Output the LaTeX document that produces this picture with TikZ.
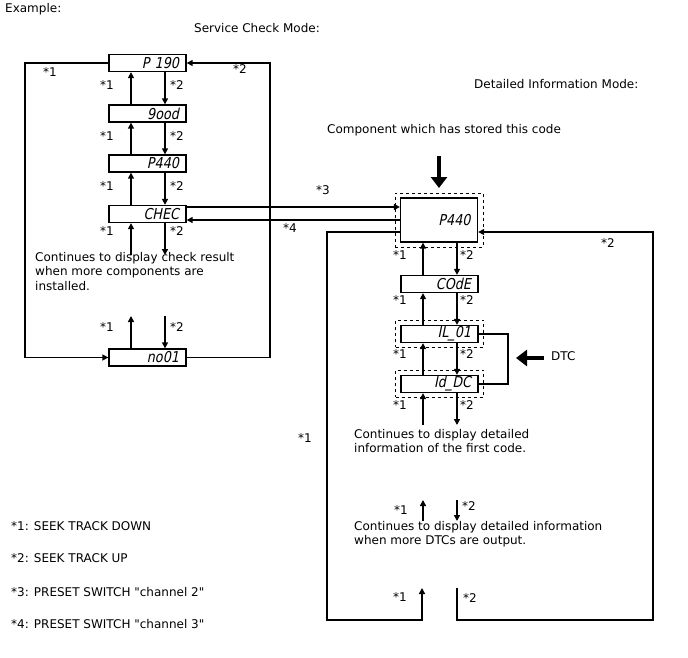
\documentclass[tikz,border=0pt]{standalone}
\usepackage{fontspec}
\setmainfont{DejaVu Sans}
\newfontfamily\segfont[FakeStretch=0.85,FakeSlant=0.2]{DejaVu Sans}
\newfontfamily\qfont[Ligatures=ResetAll]{DejaVu Sans}
\newcommand{\dq}{{\qfont\symbol{34}}}
\usetikzlibrary{arrows.meta}
\begin{document}
\begin{tikzpicture}[x=1pt,y=-1pt,
  every node/.style={font=\fontsize{12}{14}\selectfont, inner sep=0pt},
  disp/.style={draw, line width=1.3pt, minimum width=77pt, minimum height=17pt, text width=63pt, align=right, inner xsep=7pt, font=\segfont\fontsize{15}{15}\selectfont},
  bigdisp/.style={disp, minimum height=44pt},
  dashbox/.style={draw, dashed, line width=0.6pt, minimum width=88pt},
  conn/.style={line width=1.4pt},
  arr/.style={conn, -{Triangle[length=6pt,width=6pt]}},
  thickarr/.style={line width=4.5pt, -{Triangle[length=11pt,width=16pt]}},
  lbl/.style={anchor=west},
  txt/.style={anchor=north west, align=left, font=\fontsize{12}{14.5}\selectfont}
]
\useasboundingbox (0,0) rectangle (688,658);

% headings
\node[lbl] (ex) at (5,9) {Example:};
\node[lbl] (scm) at (194,28) {Service Check Mode:};
\node[lbl] (dim) at (474,84) {Detailed Information Mode:};
\node[lbl] (comp) at (327,130) {Component which has stored this code};

% left column
\node[disp] (p190) at (147.5,63) {P 190};
\node[disp] (good) at (147.5,113.5) {9ood};
\node[disp] (p440) at (147.5,163.5) {P440};
\node[disp] (chec) at (147.5,214) {CHEC};
\node[disp] (no01) at (147.5,357.5) {no01};

\coordinate (ux) at (131,0);
\coordinate (dx) at (165,0);
\draw[arr] (good.north-|ux) -- (p190.south-|ux);
\draw[arr] (p190.south-|dx) -- (good.north-|dx);
\draw[arr] (p440.north-|ux) -- (good.south-|ux);
\draw[arr] (good.south-|dx) -- (p440.north-|dx);
\draw[arr] (chec.north-|ux) -- (p440.south-|ux);
\draw[arr] (p440.south-|dx) -- (chec.north-|dx);

\coordinate (cu) at (131,255);
\coordinate (cd) at (165,255);
\draw[arr] (cu) -- (chec.south-|ux);
\draw[arr] (chec.south-|dx) -- (cd);

\coordinate (nu) at (131,316);
\coordinate (nd) at (165,316);
\draw[arr] (no01.north-|ux) -- (nu);
\draw[arr] (nd) -- (no01.north-|dx);

\coordinate (ll) at (25,357.5);
\coordinate (rl) at (270,63);
\draw[arr] (p190.west) -| (ll) -- (no01.west);
\draw[arr] (no01.east) -| (rl) -- (p190.east);

\node[lbl] at (43,72) {*1};
\node[lbl] at (233,69) {*2};
\foreach \y in {85,136,186,231,327} {
  \node[lbl] at (100,\y) {*1};
  \node[lbl] at (170,\y) {*2};
}

\node[txt] (t1) at (35,252) {Continues to display check result\\when more components are\\installed.};

% right column
\node[bigdisp] (big) at (439,220) {P440};
\node[dashbox, minimum height=54pt] (bigd) at (439,220) {};
\node[disp] (code) at (439.5,284) {COdE};
\node[disp] (il) at (439.5,334) {IL\_01};
\node[dashbox, minimum height=27pt] (ild) at (439.5,333.5) {};
\node[disp] (id) at (439.5,384) {Id\_DC};
\node[dashbox, minimum height=27pt] (idd) at (439.5,383.5) {};

\coordinate (rux) at (423,0);
\coordinate (rdx) at (457,0);
\draw[arr] (code.north-|rux) -- (big.south-|rux);
\draw[arr] (big.south-|rdx) -- (code.north-|rdx);
\draw[arr] (il.north-|rux) -- (code.south-|rux);
\draw[arr] (code.south-|rdx) -- (il.north-|rdx);
\draw[arr] (id.north-|rux) -- (il.south-|rux);
\draw[arr] (il.south-|rdx) -- (id.north-|rdx);
\coordinate (iu) at (423,425);
\coordinate (idn) at (457,425);
\draw[arr] (iu) -- (id.south-|rux);
\draw[arr] (id.south-|rdx) -- (idn);

\coordinate (br1) at (508,334);
\draw[conn] (il.east) -- (br1) |- (id.east);

\coordinate (dtcs) at (544,358);
\coordinate (dtce) at (516,358);
\draw[thickarr] (dtcs) -- (dtce);
\node[lbl] (dtc) at (551,356) {DTC};

\coordinate (tas) at (439,156);
\coordinate (tae) at (439,188);
\draw[thickarr] (tas) -- (tae);

% CHEC <-> big
\draw[arr] ([yshift=7pt]chec.east) -- ([yshift=13pt]big.west);
\draw[arr] ([yshift=0pt]big.west) -- ([yshift=-6pt]chec.east);
\node[lbl] at (316,190) {*3};
\node[lbl] at (283,228) {*4};

% big loop
\coordinate (bl) at (327,620);
\coordinate (brr) at (653,620);
\coordinate (b1) at (422,588);
\coordinate (b2) at (457,588);
\draw[arr] ([yshift=-12pt]big.west) -| (bl) -| (b1);
\draw[arr] (b2) |- (brr) |- ([yshift=-12pt]big.east);

\node[lbl] at (601,243) {*2};
\node[lbl] at (298,438) {*1};
\foreach \y in {255,300,354,405} {
  \node[lbl] at (393,\y) {*1};
  \node[lbl] at (460,\y) {*2};
}

\node[txt] (t2) at (354,429) {Continues to display detailed\\information of the first code.};

\coordinate (mu1) at (423,521);
\coordinate (mu2) at (423,500);
\coordinate (md1) at (457,500);
\coordinate (md2) at (457,521);
\draw[arr] (mu1) -- (mu2);
\draw[arr] (md1) -- (md2);
\node[lbl] at (394,510) {*1};
\node[lbl] at (462,506) {*2};

\node[txt] (t3) at (354,521) {Continues to display detailed information\\when more DTCs are output.};

\node[lbl] at (393,597) {*1};
\node[lbl] at (463,598) {*2};

% legend
\node[lbl] (l1) at (11,526) {*1: SEEK TRACK DOWN};
\node[lbl] (l2) at (11,558) {*2: SEEK TRACK UP};
\node[lbl] (l3) at (11,592) {*3: PRESET SWITCH \dq channel 2\dq};
\node[lbl] (l4) at (11,624) {*4: PRESET SWITCH \dq channel 3\dq};
\end{tikzpicture}
\end{document}
